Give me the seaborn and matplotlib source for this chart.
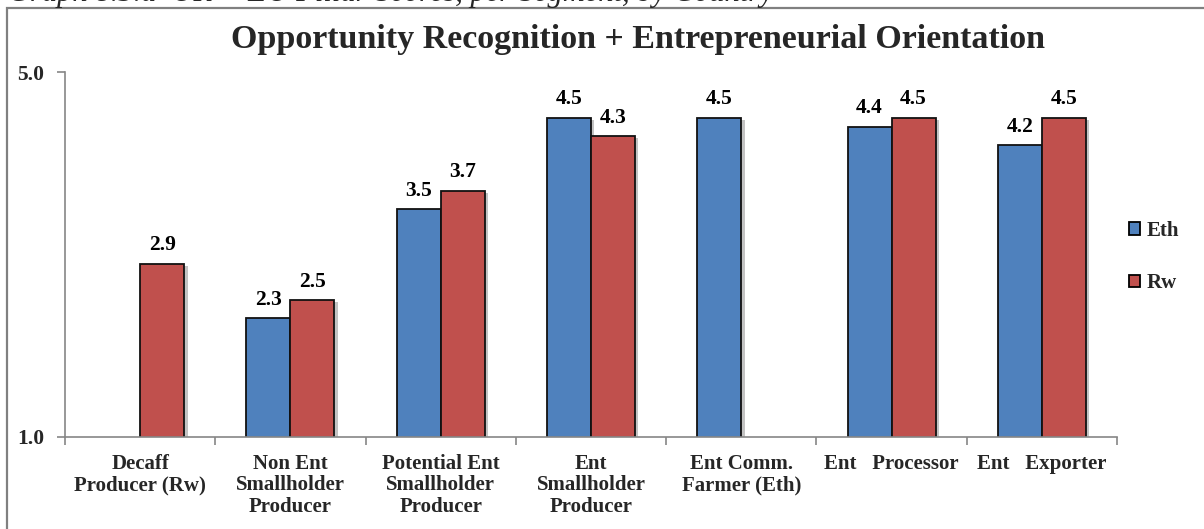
import matplotlib
matplotlib.use("Agg")
import matplotlib.pyplot as plt
import matplotlib.patheffects as pe
from matplotlib.patches import Patch, Rectangle
import numpy as np
import pandas as pd
import seaborn as sns

# Segment names, as printed under each pair of bars
segments = [
    "Decaff\nProducer (Rw)",
    "Non Ent\nSmallholder\nProducer",
    "Potential Ent\nSmallholder\nProducer",
    "Ent\nSmallholder\nProducer",
    "Ent Comm.\nFarmer (Eth)",
    "Ent   Processor",
    "Ent   Exporter",
]
countries = ["Eth", "Rw"]
# Mean pillar score per segment (NaN where the segment does not exist)
eth_scores = [np.nan, 2.3, 3.5, 4.5, 4.5, 4.4, 4.2]
rw_scores = [2.9, 2.5, 3.7, 4.3, np.nan, 4.5, 4.5]
y_ticks = [1.0, 5.0]

colors = {"Eth": "#4F81BD", "Rw": "#C0504D"}
SERIF = ["Liberation Serif", "DejaVu Serif"]

sns.set_theme(style="white")
plt.rcParams["font.family"] = SERIF
plt.rcParams["font.weight"] = "bold"

df = pd.DataFrame({
    "segment": segments * 2,
    "country": ["Eth"] * len(segments) + ["Rw"] * len(segments),
    "score": eth_scores + rw_scores,
})

W, H = 1204, 529
fig = plt.figure(figsize=(W / 100, H / 100), dpi=100)
ax = fig.add_axes([65 / W, 1 - 437 / H, (1117 - 65) / W, (437 - 72) / H])

sns.barplot(data=df, x="segment", y="score", hue="country",
            hue_order=countries, order=segments, palette=colors,
            saturation=1, width=0.585, edgecolor="#111111", linewidth=1.3,
            errorbar=None, legend=False, ax=ax)

# soft drop shadow on each bar
for p in ax.patches:
    p.set_path_effects([pe.SimplePatchShadow(offset=(2.5, -1.5), alpha=0.35,
                                             shadow_rgbFace="#555555"),
                        pe.Normal()])

# value labels
for cont in ax.containers:
    ax.bar_label(cont, fmt="%.1f", padding=6, fontsize=15.5,
                 fontweight="bold", color="black")

ax.set_ylim(1.0, 5.0)
ax.set_xlim(-0.5, len(segments) - 0.5)
ax.set_yticks(y_ticks)
ax.set_yticklabels([f"{v:.1f}" for v in y_ticks], fontsize=15.5,
                   fontweight="bold")

# tick marks at category boundaries, labels at category centres
ax.set_xticks(np.arange(-0.5, len(segments), 1.0))
ax.set_xticklabels([])
ax.set_xticks(np.arange(len(segments)), minor=True)
ax.set_xticklabels(segments, minor=True, fontsize=15, fontweight="bold",
                   linespacing=1.12)
ax.tick_params(axis="x", which="major", direction="out", length=6,
               width=1.2, color="#868686", bottom=True)
ax.tick_params(axis="x", which="minor", length=0, pad=12)
ax.tick_params(axis="y", direction="out", length=6, width=1.2,
               color="#868686", left=True, pad=9)
ax.set_xlabel("")
ax.set_ylabel("")

for side in ["top", "right"]:
    ax.spines[side].set_visible(False)
for side in ["left", "bottom"]:
    ax.spines[side].set_color("#868686")
    ax.spines[side].set_linewidth(1.2)

# legend
handles = [Patch(facecolor=colors[c], edgecolor="black", linewidth=1.3)
           for c in countries]
fig.legend(handles, countries, loc="center left",
           bbox_to_anchor=(1110 / W, 1 - 257 / H), frameon=False,
           prop={"family": SERIF, "weight": "bold", "size": 15},
           handlelength=0.55, handleheight=0.55, handletextpad=0.3,
           labelspacing=1.55)

# title
fig.text(638 / W, 1 - 48 / H,
         "Opportunity Recognition + Entrepreneurial Orientation",
         ha="center", va="baseline", fontsize=24.5, fontweight="bold")

# caption line above the chart frame
fig.text(8 / W, 1 - 1 / H,
         "Graph 8.3.a  OR + EO Pillar Scores, per Segment, by Country",
         ha="left", va="baseline", fontsize=22, fontstyle="italic",
         fontweight="normal")

# chart frame
fig.add_artist(Rectangle((7 / W, -0.1), 1.2, 1 - 8 / H + 0.1,
                         transform=fig.transFigure, fill=False,
                         edgecolor="#808080", linewidth=1.6,
                         clip_on=False))

fig.savefig("out.png", dpi=100)
